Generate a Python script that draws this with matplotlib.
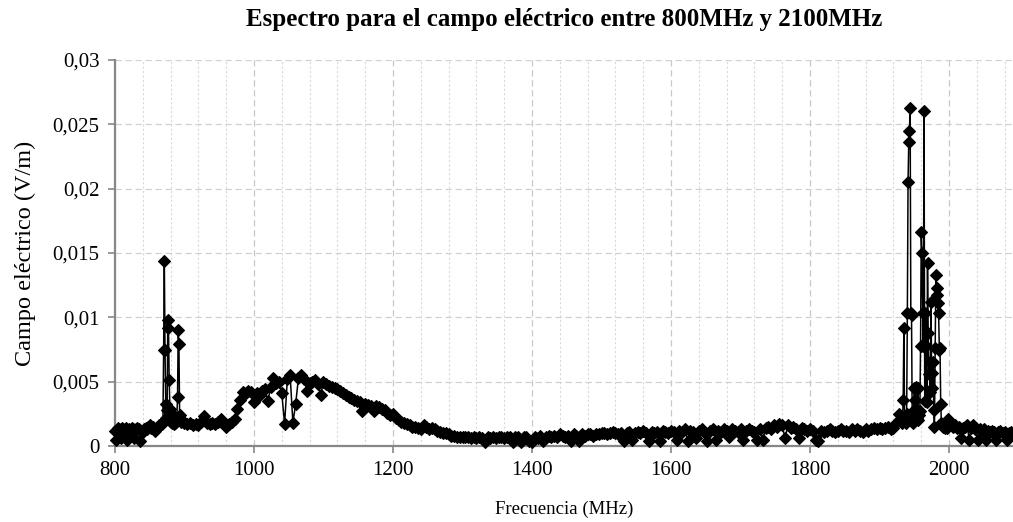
import numpy as np
import matplotlib
matplotlib.use("Agg")
import matplotlib.pyplot as plt
from matplotlib.ticker import MultipleLocator

plt.rcParams["font.family"] = ["Liberation Serif", "DejaVu Serif"]

# --- data (frequency in MHz, field in V/m) ---
# 800-866 MHz, 2 MHz steps
seg_a_start, seg_a_step = 800, 2
seg_a = [0.0012, 0.0005, 0.0014, 0.0013, 0.0006, 0.0014, 0.0012, 0.0013, 0.0014, 0.0005,
         0.0013, 0.0012, 0.0014, 0.0013, 0.0006, 0.0013, 0.0014, 0.0013, 0.0004, 0.0012,
         0.0011, 0.0013, 0.0014, 0.0013, 0.0015, 0.0016, 0.0014, 0.0015, 0.0013, 0.0012,
         0.0014, 0.0015, 0.0016, 0.0017]

# 867-895 MHz, 1 MHz steps (first burst)
peak1_start, peak1_step = 867, 1
peak1 = [0.0018, 0.0017, 0.0019, 0.0075, 0.0144, 0.0075, 0.0033, 0.0022, 0.0028, 0.0098,
         0.0092, 0.0051, 0.0029, 0.0026, 0.0019, 0.0018, 0.0021, 0.0019, 0.0017, 0.0020,
         0.0018, 0.0019, 0.0022, 0.0038, 0.0090, 0.0079, 0.0024, 0.0020, 0.0019]

# 896-1932 MHz, 4 MHz steps
seg_b_start, seg_b_step = 896, 4
seg_b = [
    # 896-976
    0.0020, 0.0018, 0.0017, 0.0018, 0.0016, 0.0017, 0.0016, 0.0019, 0.0023, 0.0018,
    0.0017, 0.0018, 0.0017, 0.0019, 0.0021, 0.0018, 0.0015, 0.0017, 0.0019, 0.0021,
    0.0029,
    # 980-1000
    0.0036, 0.0042, 0.0041, 0.0043, 0.0042, 0.0034,
    # 1004-1100
    0.0041, 0.0040, 0.0043, 0.0044, 0.0035, 0.0046, 0.0053, 0.0049, 0.0050, 0.0041,
    0.0017, 0.0052, 0.0055, 0.0018, 0.0033, 0.0053, 0.0055, 0.0052, 0.0043, 0.0049,
    0.0050, 0.0051, 0.0048, 0.0040, 0.0050,
    # 1104-1200
    0.0048, 0.0047, 0.0046, 0.0045, 0.0044, 0.0043, 0.0041, 0.0040, 0.0038, 0.0037,
    0.0036, 0.0035, 0.0034, 0.0027, 0.0033, 0.0032, 0.0031, 0.0027, 0.0031, 0.0030,
    0.0029, 0.0028, 0.0026, 0.0024, 0.0025,
    # 1204-1300
    0.0022, 0.0020, 0.0019, 0.0018, 0.0017, 0.0016, 0.0015, 0.0015, 0.0014, 0.0013,
    0.0016, 0.0015, 0.0013, 0.0014, 0.0013, 0.0012, 0.0011, 0.0010, 0.0010, 0.0009,
    0.0008, 0.0008, 0.0007, 0.0007, 0.0007,
    # 1304-1400
    0.0007, 0.0007, 0.0006, 0.0007, 0.0006, 0.0007, 0.0006, 0.0003, 0.0007, 0.0006,
    0.0007, 0.0006, 0.0007, 0.0007, 0.0006, 0.0007, 0.0007, 0.0003, 0.0007, 0.0007,
    0.0003, 0.0007, 0.0007, 0.0004, 0.0003,
    # 1404-1500
    0.0007, 0.0006, 0.0008, 0.0004, 0.0007, 0.0008, 0.0007, 0.0008, 0.0007, 0.0009,
    0.0008, 0.0007, 0.0008, 0.0004, 0.0009, 0.0008, 0.0004, 0.0009, 0.0008, 0.0009,
    0.0009, 0.0008, 0.0009, 0.0009, 0.0010,
    # 1504-1600
    0.0010, 0.0009, 0.0010, 0.0011, 0.0010, 0.0009, 0.0010, 0.0004, 0.0010, 0.0011,
    0.0005, 0.0010, 0.0011, 0.0010, 0.0012, 0.0010, 0.0004, 0.0011, 0.0010, 0.0011,
    0.0004, 0.0012, 0.0011, 0.0010, 0.0012,
    # 1604-1700
    0.0011, 0.0005, 0.0012, 0.0011, 0.0013, 0.0004, 0.0012, 0.0011, 0.0006, 0.0012,
    0.0013, 0.0011, 0.0004, 0.0012, 0.0013, 0.0005, 0.0012, 0.0011, 0.0013, 0.0012,
    0.0007, 0.0013, 0.0012, 0.0011, 0.0013,
    # 1704-1800
    0.0005, 0.0012, 0.0013, 0.0012, 0.0011, 0.0005, 0.0013, 0.0005, 0.0014, 0.0015,
    0.0013, 0.0016, 0.0015, 0.0017, 0.0016, 0.0006, 0.0016, 0.0014, 0.0015, 0.0013,
    0.0006, 0.0014, 0.0013, 0.0012, 0.0013,
    # 1804-1932
    0.0012, 0.0005, 0.0004, 0.0012, 0.0011, 0.0012, 0.0013, 0.0012, 0.0011, 0.0012,
    0.0013, 0.0012, 0.0012, 0.0011, 0.0013, 0.0012, 0.0013, 0.0012, 0.0011, 0.0013,
    0.0012, 0.0013, 0.0014, 0.0013, 0.0014, 0.0013, 0.0014, 0.0015, 0.0013, 0.0014,
    0.0018, 0.0025, 0.0018,
]

# 1933-1999 MHz, 1 MHz steps (second burst)
peak2_start, peak2_step = 1933, 1
peak2 = [0.0019, 0.0036, 0.0092, 0.0022, 0.0020, 0.0018, 0.0025, 0.0103, 0.0205, 0.0236,
         0.0245, 0.0263, 0.0103, 0.0102, 0.0020, 0.0018, 0.0028, 0.0045, 0.0036, 0.0046,
         0.0028, 0.0022, 0.0045, 0.0020, 0.0024, 0.0027, 0.0078, 0.0166, 0.0150, 0.0103,
         0.0078, 0.0260, 0.0035, 0.0103, 0.0078, 0.0034, 0.0142, 0.0088, 0.0056, 0.0065,
         0.0042, 0.0112, 0.0057, 0.0045, 0.0065, 0.0028, 0.0015, 0.0076, 0.0133, 0.0123,
         0.0117, 0.0111, 0.0103, 0.0075, 0.0076, 0.0033, 0.0018, 0.0016, 0.0017, 0.0015,
         0.0016, 0.0014, 0.0016, 0.0015, 0.0014, 0.0016, 0.0021]

# 2002-2092 MHz, 3 MHz steps
seg_c_start, seg_c_step = 2002, 3
seg_c = [0.0016, 0.0015, 0.0016, 0.0014, 0.0015, 0.0006, 0.0014, 0.0015, 0.0016, 0.0005,
         0.0014, 0.0016, 0.0013, 0.0005, 0.0013, 0.0012, 0.0013, 0.0005, 0.0012, 0.0011,
         0.0012, 0.0011, 0.0005, 0.0011, 0.0012, 0.0010, 0.0011, 0.0005, 0.0010, 0.0011,
         0.0010]

x_ticks = [800, 1000, 1200, 1400, 1600, 1800, 2000]
y_ticks = [0, 0.005, 0.01, 0.015, 0.02, 0.025, 0.03]
y_tick_labels = ["0", "0,005", "0,01", "0,015", "0,02", "0,025", "0,03"]

segments = [
    (seg_a_start, seg_a_step, seg_a),
    (peak1_start, peak1_step, peak1),
    (seg_b_start, seg_b_step, seg_b),
    (peak2_start, peak2_step, peak2),
    (seg_c_start, seg_c_step, seg_c),
]
freq = np.concatenate([start + step * np.arange(len(v)) for start, step, v in segments])
field = np.concatenate([v for _, _, v in segments])

fig = plt.figure(figsize=(10.13, 5.22), dpi=100)
ax = fig.add_axes([0.1135, 0.1456, 0.8865, 0.7394])

ax.plot(freq, field, color="black", lw=1.1, marker="D", ms=6,
        markeredgewidth=0.8, zorder=3, clip_on=False)

ax.set_xlim(800, 2092)
ax.set_ylim(0, 0.03)
ax.set_xticks(x_ticks)
ax.xaxis.set_minor_locator(MultipleLocator(40))
ax.set_yticks(y_ticks)
ax.set_yticklabels(y_tick_labels)

ax.grid(which="major", axis="x", color="#c8c8c8", ls=(0, (5, 3)), lw=0.9)
ax.grid(which="minor", axis="x", color="#d9d9d9", ls=(0, (2, 2)), lw=0.8)
ax.grid(which="major", axis="y", color="#d0d0d0", ls=(0, (5, 3)), lw=0.9)
ax.set_axisbelow(True)

for side in ["top", "right"]:
    ax.spines[side].set_visible(False)
for side in ["left", "bottom"]:
    ax.spines[side].set_color("#878787")
    ax.spines[side].set_linewidth(1.6)

ax.tick_params(axis="both", which="major", direction="out", length=5, width=1.2,
               color="#878787", labelsize=15, pad=6)
ax.tick_params(axis="x", which="minor", length=0)

ax.set_xlabel("Frecuencia (MHz)", fontsize=13.5, labelpad=15)
ax.set_ylabel("Campo eléctrico (V/m)", fontsize=17.5, labelpad=12)
fig.text(0.557, 0.962, "Espectro para el campo eléctrico entre 800MHz y 2100MHz",
         ha="center", va="center", fontsize=18, fontweight="bold")

fig.savefig("out.png", dpi=100)
